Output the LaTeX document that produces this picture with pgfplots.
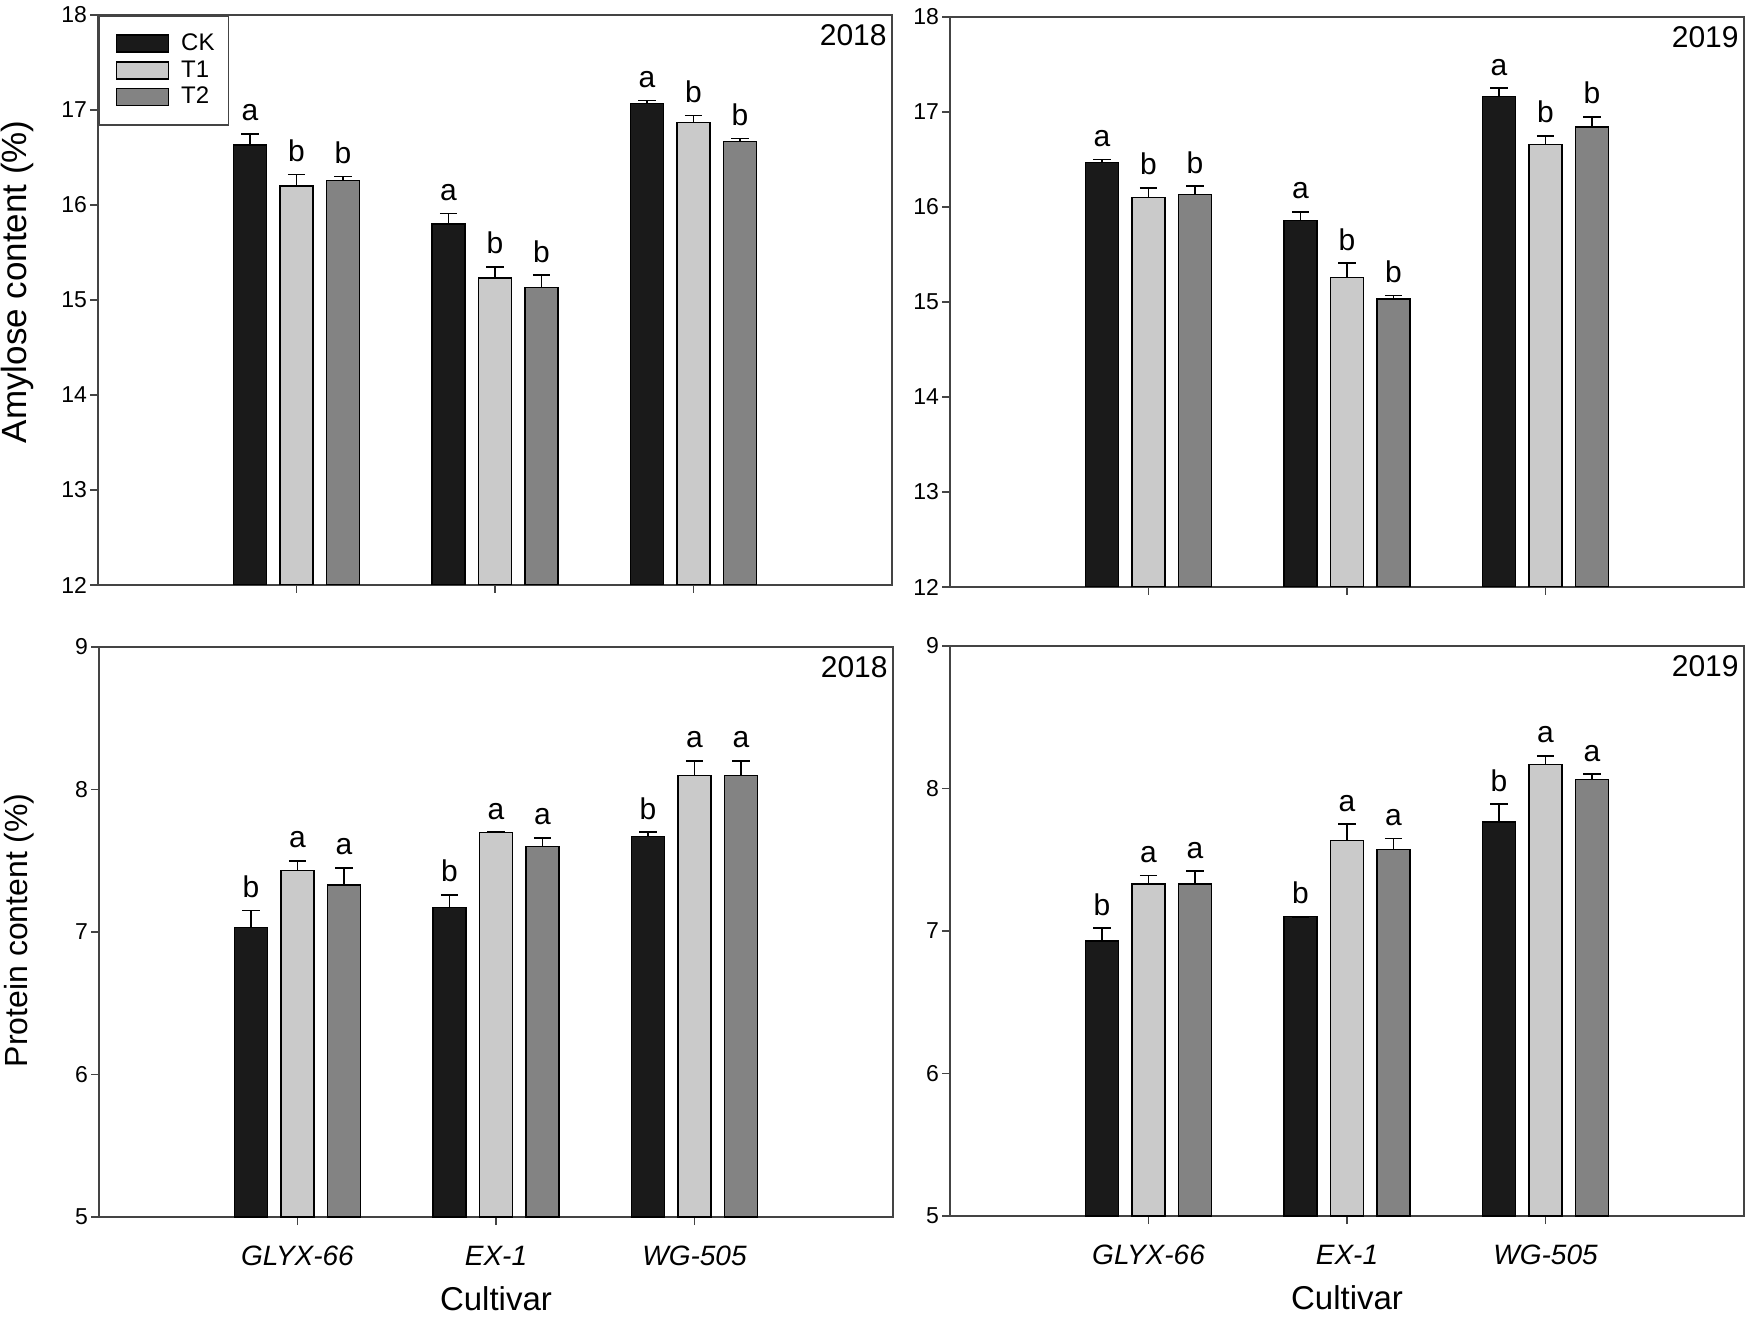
\documentclass[border=0pt]{standalone}
\usepackage{pgfplots}
\pgfplotsset{compat=1.18}
\usepackage{pgfplotstable}
\usepackage{fontspec}
\setmainfont{Liberation Sans}

\definecolor{ckc}{HTML}{1A1A1A}
\definecolor{tac}{HTML}{CACACA}
\definecolor{tbc}{HTML}{838383}
\definecolor{axc}{HTML}{444444}

% amylose 2018
\pgfplotstableread{
x ck    cke  t1    t1e  t2    t2e  ckl t1l t2l
1 16.63 0.12 16.20 0.12 16.26 0.04 a b b
2 15.80 0.11 15.23 0.12 15.13 0.13 a b b
3 17.07 0.03 16.87 0.07 16.67 0.03 a b b
}\amyA
% amylose 2019
\pgfplotstableread{
x ck    cke  t1    t1e  t2    t2e  ckl t1l t2l
1 16.47 0.03 16.10 0.10 16.13 0.09 a b b
2 15.86 0.09 15.26 0.15 15.03 0.04 a b b
3 17.16 0.09 16.66 0.09 16.84 0.11 a b b
}\amyB
% protein 2018
\pgfplotstableread{
x ck    cke   t1    t1e   t2    t2e   ckl t1l t2l
1 7.03  0.12  7.43  0.07  7.33  0.12  b a a
2 7.17  0.09  7.70  0.00  7.60  0.06  b a a
3 7.67  0.03  8.10  0.10  8.10  0.10  b a a
}\proA
% protein 2019
\pgfplotstableread{
x ck    cke   t1    t1e   t2    t2e   ckl t1l t2l
1 6.93  0.09  7.33  0.06  7.33  0.09  b a a
2 7.10  0.00  7.635 0.115 7.57  0.08  b a a
3 7.765 0.125 8.17  0.06  8.065 0.035 b a a
}\proB

\pgfplotsset{
  panel/.style={
    scale only axis, width=397pt, height=285pt,
    xmin=0, xmax=4, xtick={1,2,3},
    tick align=outside, tick pos=left, major tick length=4pt,
    axis line style={axc, line width=0.8pt},
    every tick/.style={axc, line width=0.8pt},
    tick label style={font=\fontsize{11.5}{13}\selectfont},
    yticklabel style={xshift=2pt},
    /pgf/number format/assume math mode=true,
    ylabel style={anchor=center},
    xlabel style={at={(rel axis cs:0.5,-0.1436)}, anchor=center, font=\fontsize{16.5}{18}\selectfont},
    xticklabel style={font=\fontsize{14}{16}\selectfont\itshape, yshift=-7pt},
  },
  barbase/.style={ybar, bar width=0.166, bar shift=0pt, draw=black, line width=0.7pt,
    error bars/y dir=plus, error bars/y explicit,
    error bars/error bar style={black, line width=0.8pt},
    error bars/error mark options={rotate=90, mark size=4.3pt, black, line width=0.8pt}},
  letters/.style={draw=none, forget plot, nodes near coords, point meta=explicit symbolic,
    every node near coord/.style={anchor=base, yshift=6.5pt, inner sep=0pt,
      font=\fontsize{15}{17}\selectfont, black}},
}

\newcommand{\panelbars}[1]{%
  \addplot[barbase, fill=ckc] table[x expr=\thisrow{x}-0.234, y=ck, y error=cke] {#1};
  \addplot[barbase, fill=tac] table[x=x, y=t1, y error=t1e] {#1};
  \addplot[barbase, fill=tbc] table[x expr=\thisrow{x}+0.234, y=t2, y error=t2e] {#1};
  \addplot[letters] table[x expr=\thisrow{x}-0.234, y expr=\thisrow{ck}+\thisrow{cke}, meta=ckl] {#1};
  \addplot[letters] table[x=x, y expr=\thisrow{t1}+\thisrow{t1e}, meta=t1l] {#1};
  \addplot[letters] table[x expr=\thisrow{x}+0.234, y expr=\thisrow{t2}+\thisrow{t2e}, meta=t2l] {#1};
}
\newcommand{\yearlabel}[1]{%
  \node[anchor=north east, inner sep=0pt, xshift=-2.5pt, yshift=-4.5pt,
        font=\fontsize{15}{17}\selectfont] at (rel axis cs:1,1) {#1};
}

\begin{document}
\begin{tikzpicture}
\useasboundingbox (0,0) rectangle (874pt,663pt);

\begin{axis}[panel, at={(49pt,370.5pt)}, anchor=south west,
  ymin=12, ymax=18, ytick={12,13,...,18}, xticklabels={,,},
  ylabel={Amylose content (\%)},
  ylabel style={at={(rel axis cs:-0.101,0.532)}, font=\fontsize{17.5}{19}\selectfont},
  legend image code/.code={\path (0pt,0pt); \draw[#1] (3.5pt,-4.25pt) rectangle (29.5pt,4.25pt);},
  legend style={at={(0,1)}, anchor=north west, draw=axc, line width=0.8pt,
    font=\fontsize{12}{14}\selectfont, inner xsep=5pt, inner ysep=7pt, row sep=-0.5pt,
    /tikz/every odd column/.style={column sep=4pt}},
  legend cell align=left]
\panelbars{\amyA}
\legend{CK,T1,T2}
\yearlabel{2018}
\end{axis}

\begin{axis}[panel, at={(475pt,369.5pt)}, anchor=south west,
  ymin=12, ymax=18, ytick={12,13,...,18}, xticklabels={,,}]
\panelbars{\amyB}
\yearlabel{2019}
\end{axis}

\begin{axis}[panel, at={(49.5pt,54.5pt)}, anchor=south west,
  ymin=5, ymax=9, ytick={5,6,...,9},
  xticklabels={GLYX-66,EX-1,WG-505},
  xlabel={Cultivar}, ylabel={Protein content (\%)},
  ylabel style={at={(rel axis cs:-0.101,0.503)}, font=\fontsize{16}{18}\selectfont}]
\panelbars{\proA}
\yearlabel{2018}
\end{axis}

\begin{axis}[panel, at={(475pt,55pt)}, anchor=south west,
  ymin=5, ymax=9, ytick={5,6,...,9},
  xticklabels={GLYX-66,EX-1,WG-505},
  xlabel={Cultivar}]
\panelbars{\proB}
\yearlabel{2019}
\end{axis}
\end{tikzpicture}
\end{document}
